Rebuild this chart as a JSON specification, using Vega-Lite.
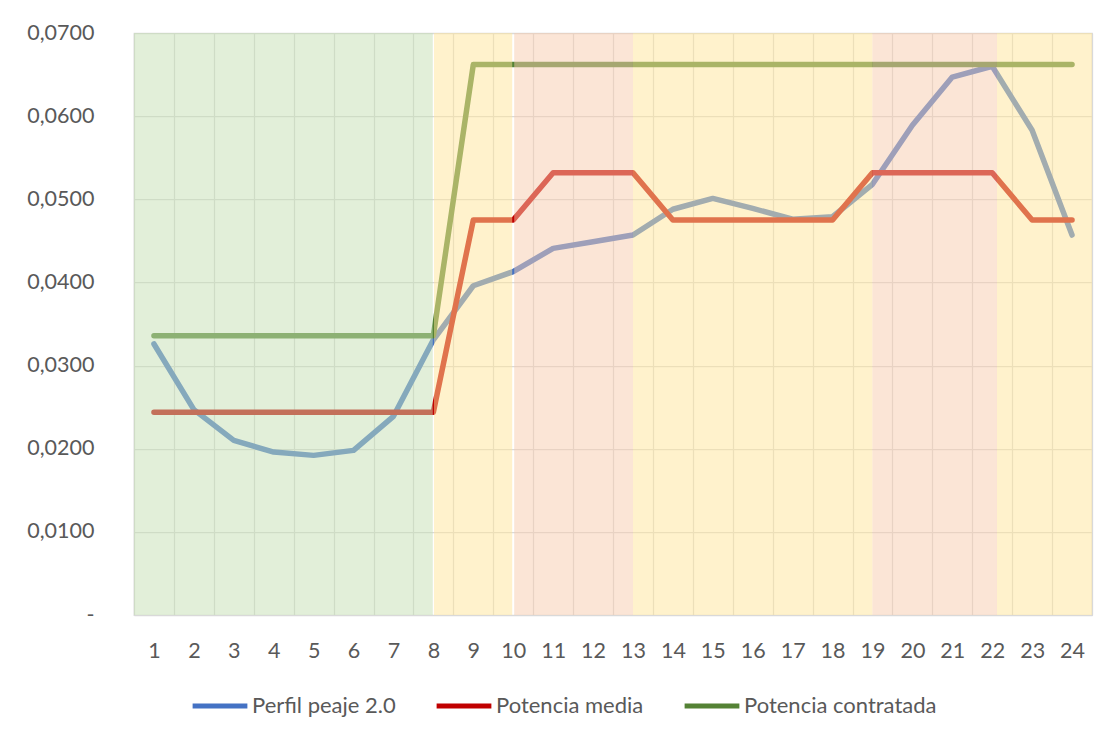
{
  "$schema": "https://vega.github.io/schema/vega-lite/v6.json",
  "width": 958,
  "height": 582,
  "autosize": "none",
  "padding": {"left": 134, "top": 33, "right": 20, "bottom": 120},
  "background": "white",
  "config": {
    "view": {"stroke": "#D9D9D9", "strokeWidth": 1.25},
    "font": "Lato"
  },
  "datasets": {
    "series": [
      {"h": 1, "s": "Perfil peaje 2.0", "v": 0.0326},
      {"h": 2, "s": "Perfil peaje 2.0", "v": 0.0247},
      {"h": 3, "s": "Perfil peaje 2.0", "v": 0.0210},
      {"h": 4, "s": "Perfil peaje 2.0", "v": 0.0196},
      {"h": 5, "s": "Perfil peaje 2.0", "v": 0.0192},
      {"h": 6, "s": "Perfil peaje 2.0", "v": 0.0198},
      {"h": 7, "s": "Perfil peaje 2.0", "v": 0.0239},
      {"h": 8, "s": "Perfil peaje 2.0", "v": 0.0331},
      {"h": 9, "s": "Perfil peaje 2.0", "v": 0.0396},
      {"h": 10, "s": "Perfil peaje 2.0", "v": 0.0413},
      {"h": 11, "s": "Perfil peaje 2.0", "v": 0.0441},
      {"h": 12, "s": "Perfil peaje 2.0", "v": 0.0449},
      {"h": 13, "s": "Perfil peaje 2.0", "v": 0.0457},
      {"h": 14, "s": "Perfil peaje 2.0", "v": 0.0488},
      {"h": 15, "s": "Perfil peaje 2.0", "v": 0.0501},
      {"h": 16, "s": "Perfil peaje 2.0", "v": 0.0489},
      {"h": 17, "s": "Perfil peaje 2.0", "v": 0.0476},
      {"h": 18, "s": "Perfil peaje 2.0", "v": 0.0479},
      {"h": 19, "s": "Perfil peaje 2.0", "v": 0.0518},
      {"h": 20, "s": "Perfil peaje 2.0", "v": 0.0589},
      {"h": 21, "s": "Perfil peaje 2.0", "v": 0.0647},
      {"h": 22, "s": "Perfil peaje 2.0", "v": 0.0660},
      {"h": 23, "s": "Perfil peaje 2.0", "v": 0.0583},
      {"h": 24, "s": "Perfil peaje 2.0", "v": 0.0457},
      {"h": 1, "s": "Potencia media", "v": 0.0244},
      {"h": 2, "s": "Potencia media", "v": 0.0244},
      {"h": 3, "s": "Potencia media", "v": 0.0244},
      {"h": 4, "s": "Potencia media", "v": 0.0244},
      {"h": 5, "s": "Potencia media", "v": 0.0244},
      {"h": 6, "s": "Potencia media", "v": 0.0244},
      {"h": 7, "s": "Potencia media", "v": 0.0244},
      {"h": 8, "s": "Potencia media", "v": 0.0244},
      {"h": 9, "s": "Potencia media", "v": 0.0475},
      {"h": 10, "s": "Potencia media", "v": 0.0475},
      {"h": 11, "s": "Potencia media", "v": 0.0532},
      {"h": 12, "s": "Potencia media", "v": 0.0532},
      {"h": 13, "s": "Potencia media", "v": 0.0532},
      {"h": 14, "s": "Potencia media", "v": 0.0475},
      {"h": 15, "s": "Potencia media", "v": 0.0475},
      {"h": 16, "s": "Potencia media", "v": 0.0475},
      {"h": 17, "s": "Potencia media", "v": 0.0475},
      {"h": 18, "s": "Potencia media", "v": 0.0475},
      {"h": 19, "s": "Potencia media", "v": 0.0532},
      {"h": 20, "s": "Potencia media", "v": 0.0532},
      {"h": 21, "s": "Potencia media", "v": 0.0532},
      {"h": 22, "s": "Potencia media", "v": 0.0532},
      {"h": 23, "s": "Potencia media", "v": 0.0475},
      {"h": 24, "s": "Potencia media", "v": 0.0475},
      {"h": 1, "s": "Potencia contratada", "v": 0.0336},
      {"h": 2, "s": "Potencia contratada", "v": 0.0336},
      {"h": 3, "s": "Potencia contratada", "v": 0.0336},
      {"h": 4, "s": "Potencia contratada", "v": 0.0336},
      {"h": 5, "s": "Potencia contratada", "v": 0.0336},
      {"h": 6, "s": "Potencia contratada", "v": 0.0336},
      {"h": 7, "s": "Potencia contratada", "v": 0.0336},
      {"h": 8, "s": "Potencia contratada", "v": 0.0336},
      {"h": 9, "s": "Potencia contratada", "v": 0.0662},
      {"h": 10, "s": "Potencia contratada", "v": 0.0662},
      {"h": 11, "s": "Potencia contratada", "v": 0.0662},
      {"h": 12, "s": "Potencia contratada", "v": 0.0662},
      {"h": 13, "s": "Potencia contratada", "v": 0.0662},
      {"h": 14, "s": "Potencia contratada", "v": 0.0662},
      {"h": 15, "s": "Potencia contratada", "v": 0.0662},
      {"h": 16, "s": "Potencia contratada", "v": 0.0662},
      {"h": 17, "s": "Potencia contratada", "v": 0.0662},
      {"h": 18, "s": "Potencia contratada", "v": 0.0662},
      {"h": 19, "s": "Potencia contratada", "v": 0.0662},
      {"h": 20, "s": "Potencia contratada", "v": 0.0662},
      {"h": 21, "s": "Potencia contratada", "v": 0.0662},
      {"h": 22, "s": "Potencia contratada", "v": 0.0662},
      {"h": 23, "s": "Potencia contratada", "v": 0.0662},
      {"h": 24, "s": "Potencia contratada", "v": 0.0662}
    ],
    "periodos": [
      {"periodo": "Valle", "inicio": 0.5, "fin": 7.985},
      {"periodo": "Llano", "inicio": 8.015, "fin": 9.975},
      {"periodo": "Punta", "inicio": 10.025, "fin": 13.0},
      {"periodo": "Llano", "inicio": 13.0, "fin": 19.0},
      {"periodo": "Punta", "inicio": 19.0, "fin": 22.12},
      {"periodo": "Llano", "inicio": 22.12, "fin": 24.5}
    ]
  },
  "layer": [
    {
      "data": {"name": "series"},
      "mark": {"type": "line", "strokeWidth": 5.5, "strokeCap": "round", "strokeJoin": "round"},
      "encoding": {
        "x": {
          "field": "h", "type": "quantitative",
          "scale": {"domain": [0.5, 24.5], "nice": false, "zero": false},
          "axis": {
            "title": null,
            "values": [0.5, 1.5, 2.5, 3.5, 4.5, 5.5, 6.5, 7.5, 8.5, 9.5, 10.5, 11.5, 12.5, 13.5, 14.5, 15.5, 16.5, 17.5, 18.5, 19.5, 20.5, 21.5, 22.5, 23.5, 24.5],
            "grid": true, "gridColor": "#D9D9D9", "gridWidth": 1.25,
            "ticks": false, "domain": false,
            "labelExpr": "datum.value < 24 ? format(datum.value + 0.5, 'd') : ''",
            "labelOffset": 19.96, "labelFontSize": 21.5, "labelColor": "#595959",
            "labelPadding": 25, "labelOverlap": false, "labelFlush": false, "labelBound": false
          }
        },
        "y": {
          "field": "v", "type": "quantitative",
          "scale": {"domain": [0, 0.07], "nice": false, "zero": true},
          "axis": {
            "title": null,
            "values": [0, 0.01, 0.02, 0.03, 0.04, 0.05, 0.06, 0.07],
            "grid": true, "gridColor": "#D9D9D9", "gridWidth": 1.25,
            "ticks": false, "domain": false,
            "labelExpr": "datum.value == 0 ? '-\u00a0\u00a0\u00a0' : replace(format(datum.value, '.4f'), '.', ',')",
            "labelFontSize": 21.5, "labelColor": "#595959", "labelPadding": 40
          }
        },
        "color": {
          "field": "s", "type": "nominal",
          "scale": {
            "domain": ["Perfil peaje 2.0", "Potencia media", "Potencia contratada"],
            "range": ["#4472C4", "#C00000", "#548235"]
          },
          "legend": {
            "title": null, "orient": "none", "direction": "horizontal",
            "legendX": 56, "legendY": 643, "padding": 0,
            "symbolType": "stroke", "symbolStrokeWidth": 5, "symbolSize": 3000,
            "labelFontSize": 22, "labelColor": "#595959", "labelOffset": 2,
            "labelLimit": 400, "columnPadding": 30, "symbolOpacity": 1
          }
        }
      }
    },
    {
      "data": {"name": "periodos"},
      "mark": {"type": "rect", "fillOpacity": 0.5},
      "encoding": {
        "x": {
          "field": "inicio", "type": "quantitative",
          "axis": {
            "title": null,
            "values": [0.5, 1.5, 2.5, 3.5, 4.5, 5.5, 6.5, 7.5, 8.5, 9.5, 10.5, 11.5, 12.5, 13.5, 14.5, 15.5, 16.5, 17.5, 18.5, 19.5, 20.5, 21.5, 22.5, 23.5, 24.5],
            "grid": true, "gridColor": "#D9D9D9", "gridWidth": 1.25,
            "ticks": false, "domain": false,
            "labelExpr": "datum.value < 24 ? format(datum.value + 0.5, 'd') : ''",
            "labelOffset": 19.96, "labelFontSize": 21.5, "labelColor": "#595959",
            "labelPadding": 25, "labelOverlap": false, "labelFlush": false, "labelBound": false
          }
        },
        "x2": {"field": "fin"},
        "y": {"datum": 0},
        "y2": {"datum": 0.07},
        "fill": {
          "field": "periodo", "type": "nominal",
          "scale": {"domain": ["Valle", "Llano", "Punta"], "range": ["#C5E0B4", "#FFE699", "#F8CBAD"]},
          "legend": null
        }
      }
    }
  ]
}
